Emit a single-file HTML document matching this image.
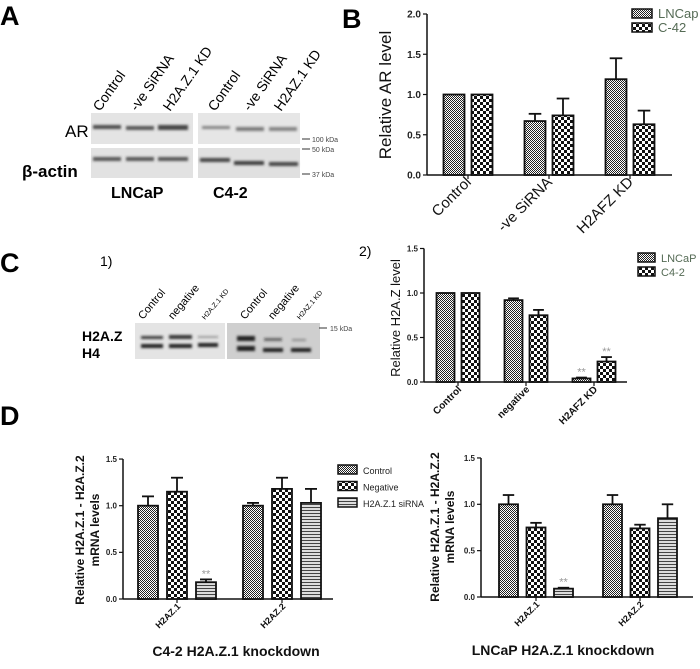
<!DOCTYPE html>
<html><head><meta charset="utf-8">
<style>
html,body{margin:0;padding:0;background:#fff;}
svg{display:block;font-family:"Liberation Sans",Arial,sans-serif;}
</style></head>
<body>
<svg id="fig" width="700" height="669" viewBox="0 0 700 669" xmlns="http://www.w3.org/2000/svg">
<defs>
  <pattern id="pFine" width="2" height="2" patternUnits="userSpaceOnUse"><rect width="2" height="2" fill="#fff"/><rect width="1" height="1" fill="#222"/><rect x="1" y="1" width="1" height="1" fill="#222"/></pattern>
  <pattern id="pCheck" width="6" height="6" patternUnits="userSpaceOnUse"><rect width="6" height="6" fill="#fff"/><rect width="3" height="3" fill="#111"/><rect x="3" y="3" width="3" height="3" fill="#111"/></pattern>
  <pattern id="pStripe" width="4" height="3" patternUnits="userSpaceOnUse"><rect width="4" height="3" fill="#ddd"/><rect y="0" width="4" height="1" fill="#444"/></pattern>
  <filter id="blur" x="-10%" y="-50%" width="120%" height="200%"><feGaussianBlur stdDeviation="1.2"/></filter>
</defs>

<!-- Panel A -->
<g>
  <text x="0" y="25" font-size="27" font-weight="bold">A</text>
  <g font-size="14">
    <text transform="translate(100,112) rotate(-55)">Control</text>
    <text transform="translate(137,112) rotate(-55)">-ve SiRNA</text>
    <text transform="translate(170,112) rotate(-55)">H2A.Z.1 KD</text>
    <text transform="translate(215,112) rotate(-55)">Control</text>
    <text transform="translate(250,112) rotate(-55)">-ve SiRNA</text>
    <text transform="translate(281,112) rotate(-55)">H2AZ.1 KD</text>
  </g>
  <rect x="91" y="113" width="102" height="31" fill="#e4e4e4"/>
  <rect x="91" y="148" width="102" height="30" fill="#e2e2e2"/>
  <rect x="198" y="113" width="102" height="31" fill="#e6e6e6"/>
  <rect x="198" y="148" width="102" height="30" fill="#e0e0e0"/>
  <g filter="url(#blur)" fill="#333">
    <rect x="93" y="125" width="28" height="4" opacity="0.85"/><rect x="126" y="126" width="28" height="4" opacity="0.8"/><rect x="158" y="125" width="30" height="5" opacity="0.9"/>
    <rect x="93" y="157" width="28" height="4" opacity="0.8"/><rect x="126" y="157" width="28" height="4" opacity="0.8"/><rect x="158" y="157" width="30" height="4" opacity="0.8"/>
    <rect x="202" y="126" width="28" height="3" opacity="0.55"/><rect x="236" y="127" width="28" height="4" opacity="0.6"/><rect x="269" y="127" width="28" height="4" opacity="0.55"/>
    <rect x="200" y="158" width="30" height="4" opacity="0.9"/><rect x="234" y="161" width="30" height="4" opacity="0.95"/><rect x="269" y="162" width="29" height="4" opacity="0.9"/>
  </g>
  <text x="65" y="137" font-size="17">AR</text>
  <text x="22" y="177" font-size="17" font-weight="bold">β-actin</text>
  <text x="111" y="198" font-size="16" font-weight="bold">LNCaP</text>
  <text x="213" y="198" font-size="16" font-weight="bold">C4-2</text>
  <g stroke="#333" stroke-width="1"><line x1="302" y1="139" x2="310" y2="139"/><line x1="302" y1="149" x2="310" y2="149"/><line x1="302" y1="174" x2="310" y2="174"/></g>
  <g font-size="7" fill="#444"><text x="312" y="142">100 kDa</text><text x="312" y="152">50 kDa</text><text x="312" y="177">37 kDa</text></g>
</g>

<text x="342" y="28" font-size="27" font-weight="bold">B</text>

<!-- Panel C -->
<g>
  <text x="0" y="272" font-size="27" font-weight="bold">C</text>
  <text x="100" y="266" font-size="14">1)</text>
  <text x="359" y="256" font-size="14">2)</text>
  <g font-size="11">
    <text transform="translate(143,320) rotate(-50)">Control</text>
    <text transform="translate(173,320) rotate(-50)">negative</text>
    <text transform="translate(205,320) rotate(-50)" font-size="7">H2A.Z.1 KD</text>
    <text transform="translate(245,320) rotate(-50)">Control</text>
    <text transform="translate(273,320) rotate(-50)">negative</text>
    <text transform="translate(300,320) rotate(-50)" font-size="7">H2AZ.1 KD</text>
  </g>
  <rect x="135" y="323" width="90" height="36" fill="#e4e4e4"/>
  <rect x="227" y="323" width="93" height="36" fill="#cfcfcf"/>
  <g filter="url(#blur)" fill="#222">
    <rect x="141" y="336" width="22" height="3" opacity="0.85"/><rect x="169" y="335" width="23" height="4" opacity="0.9"/><rect x="198" y="336" width="20" height="2" opacity="0.4"/>
    <rect x="141" y="344" width="22" height="4"/><rect x="169" y="344" width="23" height="4"/><rect x="198" y="343" width="20" height="4"/>
    <rect x="237" y="336" width="18" height="5"/><rect x="264" y="338" width="18" height="3" opacity="0.6"/><rect x="292" y="339" width="14" height="2" opacity="0.35"/>
    <rect x="237" y="346" width="18" height="5"/><rect x="263" y="348" width="20" height="4"/><rect x="291" y="348" width="20" height="4"/>
  </g>
  <text x="82" y="341" font-size="14" font-weight="bold">H2A.Z</text>
  <text x="82" y="358" font-size="14" font-weight="bold">H4</text>
  <line x1="319" y1="328" x2="327" y2="328" stroke="#333"/>
  <text x="330" y="331" font-size="7" fill="#444">15 kDa</text>
  <text x="0" y="425" font-size="27" font-weight="bold">D</text>
</g>

<g id="charts"></g>
</svg>

<script>
// ---- Chart B data ----
const bCategories = ["Control", "-ve SiRNA", "H2AFZ  KD"];
const bLncap = [1.0, 0.67, 1.19];
const bLncapErr = [0, 0.09, 0.26];
const bC42 = [1.0, 0.74, 0.63];
const bC42Err = [0, 0.21, 0.17];
const bTicks = [0, 0.5, 1.0, 1.5, 2.0];
const bTickLabels = ["0.0", "0.5", "1.0", "1.5", "2.0"];

// ---- Chart C2 data ----
const cCategories = ["Control", "negative", "H2AFZ KD"];
const cLncap = [1.0, 0.92, 0.04];
const cLncapErr = [0, 0.02, 0.01];
const cC42 = [1.0, 0.75, 0.23];
const cC42Err = [0, 0.06, 0.05];
const cStars = [["", "", "**"], ["", "", "**"]];
const cTicks = [0, 0.5, 1.0, 1.5];
const cTickLabels = ["0.0", "0.5", "1.0", "1.5"];

// ---- Chart D data ----
const dCategories = ["H2AZ.1", "H2AZ.2"];
const dTicks = [0, 0.5, 1.0, 1.5];
const dTickLabels = ["0.0", "0.5", "1.0", "1.5"];
const dLeftControl = [1.0, 1.0];
const dLeftControlErr = [0.1, 0.03];
const dLeftNegative = [1.15, 1.18];
const dLeftNegativeErr = [0.15, 0.12];
const dLeftSiRNA = [0.18, 1.03];
const dLeftSiRNAErr = [0.03, 0.15];
const dRightControl = [1.0, 1.0];
const dRightControlErr = [0.1, 0.1];
const dRightNegative = [0.75, 0.74];
const dRightNegativeErr = [0.05, 0.04];
const dRightSiRNA = [0.09, 0.85];
const dRightSiRNAErr = [0.01, 0.15];
const dStars = [["", ""], ["", ""], ["**", ""]];

const NS = "http://www.w3.org/2000/svg";
const root = document.getElementById("charts");
function mk(tag, attrs, parent) {
  const e = document.createElementNS(NS, tag);
  for (const k in attrs) e.setAttribute(k, attrs[k]);
  (parent || root).appendChild(e);
  return e;
}

function drawChart(c) {
  const g = mk("g", {});
  
  
  const yS = v => c.y0 - v * c.ppu;
  const nS = c.series.length;
  const xBar = (gi, si) => c.gStart + gi * c.gStep - (nS * c.bw + (nS - 1) * c.bgap) / 2 + si * (c.bw + c.bgap);
  // axes
  const ya = mk("line", {x1: c.x0, y1: yS(c.ticks[c.ticks.length - 1]), x2: c.x0, y2: c.y0, stroke: "#111", "stroke-width": 1.5}, g);
  
  
  const xa = mk("line", {x1: c.x0, y1: c.y0, x2: c.xEnd, y2: c.y0, stroke: "#111", "stroke-width": 1.5}, g);
  
  
  c.ticks.forEach((t, i) => {
    mk("line", {x1: c.x0 - 4, y1: yS(t), x2: c.x0, y2: yS(t), stroke: "#111", "stroke-width": 1.2}, g);
    const tl = mk("text", {x: c.x0 - 6, y: yS(t) + c.tfs * 0.35, "font-size": c.tfs, "font-weight": "bold", "text-anchor": "end", fill: "#222"}, g);
    tl.textContent = c.tickLabels[i];
    
    
  });
  // bars
  c.series.forEach((s, si) => {
    s.vals.forEach((v, gi) => {
      const x = xBar(gi, si);
      const top = yS(v);
      const cx = x + c.bw / 2;
      if (s.err[gi] > 0) {
        mk("line", {x1: cx, y1: top, x2: cx, y2: yS(v + s.err[gi]), stroke: "#111", "stroke-width": 1.8}, g);
        mk("line", {x1: cx - c.bw * 0.3, y1: yS(v + s.err[gi]), x2: cx + c.bw * 0.3, y2: yS(v + s.err[gi]), stroke: "#111", "stroke-width": 1.8}, g);
      }
      const r = mk("rect", {x: x, y: top, width: c.bw, height: Math.max(0, c.y0 - top), fill: "url(#" + s.pat + ")", stroke: "#111", "stroke-width": 1.8}, g);
      
      
      if (c.stars && c.stars[si] && c.stars[si][gi]) {
        const st = mk("text", {x: cx, y: yS(v + s.err[gi]) - 2, "font-size": 11, "text-anchor": "middle", fill: "#999"}, g);
        st.textContent = c.stars[si][gi];
        
        
      }
    });
  });
  // categories
  c.cats.forEach((cat, gi) => {
    const tx = c.gStart + gi * c.gStep;
    mk("line", {x1: tx, y1: c.y0, x2: tx, y2: c.y0 + 4, stroke: "#111", "stroke-width": 1.2}, g);
    const t = mk("text", {transform: "translate(" + (tx + 4) + "," + (c.y0 + 8) + ") rotate(-45)", "font-size": c.cfs, "font-weight": c.cbold ? "bold" : "normal", "text-anchor": "end", fill: "#111"}, g);
    t.textContent = cat;
    
    
  });
  // y label
  c.ylabel.forEach((line, li) => {
    const t = mk("text", {transform: "translate(" + (c.ylx + li * c.yld) + "," + c.yly + ") rotate(-90)", "font-size": c.ylfs, "font-weight": c.ylbold ? "bold" : "normal", "text-anchor": "middle", fill: "#111"}, g);
    t.textContent = line;
    
    
  });
  if (c.title) {
    const t = mk("text", {x: c.title.x, y: c.title.y, "font-size": 14, "font-weight": "bold", "text-anchor": "middle", fill: "#111"}, g);
    t.textContent = c.title.text;
    
    
  }
  if (c.legend) {
    c.series.forEach((s, si) => {
      const ly = c.legend.y + si * c.legend.dy;
      const sw = mk("rect", {x: c.legend.x, y: ly - 5, width: c.legend.w, height: 9, fill: "url(#" + s.pat + ")", stroke: "#111", "stroke-width": 1.5}, g);
      
      
      const t = mk("text", {x: c.legend.x + c.legend.w + 6, y: ly + 4, "font-size": c.legend.fs, fill: c.legend.color}, g);
      t.textContent = s.label;
      
      
    });
  }
}

drawChart({name: "chart-b-ar-level", x0: 427, xEnd: 672, y0: 175, ppu: 80.5, ticks: bTicks, tickLabels: bTickLabels, tfs: 10,
  gStart: 468, gStep: 81, bw: 21, bgap: 7, cats: bCategories, cfs: 15, cbold: false,
  series: [{key: "lncap", label: "LNCap", vals: bLncap, err: bLncapErr, pat: "pFine"}, {key: "c42", label: "C-42", vals: bC42, err: bC42Err, pat: "pCheck"}],
  ylabel: ["Relative AR level"], ylx: 391, yld: 0, yly: 95, ylfs: 17, ylbold: false,
  legend: {x: 632, y: 14, dy: 14, w: 20, fs: 13, color: "#556b55"}});

drawChart({name: "chart-c2-h2az-level", x0: 424, xEnd: 627, y0: 382, ppu: 89, ticks: cTicks, tickLabels: cTickLabels, tfs: 8,
  gStart: 458, gStep: 68, bw: 18, bgap: 7, cats: cCategories, cfs: 10, cbold: true, stars: cStars,
  series: [{key: "lncap", label: "LNCaP", vals: cLncap, err: cLncapErr, pat: "pFine"}, {key: "c42", label: "C4-2", vals: cC42, err: cC42Err, pat: "pCheck"}],
  ylabel: ["Relative H2A.Z level"], ylx: 400, yld: 0, yly: 318, ylfs: 13, ylbold: false,
  legend: {x: 638, y: 258, dy: 14, w: 17, fs: 11, color: "#556b55"}});

drawChart({name: "chart-d-c42-mrna", x0: 123, xEnd: 333, y0: 599, ppu: 93.3, ticks: dTicks, tickLabels: dTickLabels, tfs: 8,
  gStart: 177, gStep: 105, bw: 20, bgap: 9, cats: dCategories, cfs: 9, cbold: true,
  stars: [["", ""], ["", ""], ["**", ""]],
  series: [{key: "control", label: "Control", vals: dLeftControl, err: dLeftControlErr, pat: "pFine"},
           {key: "negative", label: "Negative", vals: dLeftNegative, err: dLeftNegativeErr, pat: "pCheck"},
           {key: "sirna", label: "H2A.Z.1 siRNA", vals: dLeftSiRNA, err: dLeftSiRNAErr, pat: "pStripe"}],
  ylabel: ["Relative H2A.Z.1 - H2A.Z.2", "mRNA levels"], ylx: 84, yld: 15, yly: 530, ylfs: 12, ylbold: true,
  title: {x: 236, y: 656, text: "C4-2 H2A.Z.1 knockdown"},
  legend: {x: 338, y: 470, dy: 16.5, w: 19, fs: 9, color: "#222"}});

drawChart({name: "chart-d-lncap-mrna", x0: 481, xEnd: 693, y0: 597, ppu: 92.7, ticks: dTicks, tickLabels: dTickLabels, tfs: 8,
  gStart: 536, gStep: 104, bw: 19, bgap: 8.5, cats: dCategories, cfs: 9, cbold: true,
  stars: dStars,
  series: [{key: "control", label: "Control", vals: dRightControl, err: dRightControlErr, pat: "pFine"},
           {key: "negative", label: "Negative", vals: dRightNegative, err: dRightNegativeErr, pat: "pCheck"},
           {key: "sirna", label: "H2A.Z.1 siRNA", vals: dRightSiRNA, err: dRightSiRNAErr, pat: "pStripe"}],
  ylabel: ["Relative H2A.Z.1 - H2A.Z.2", "mRNA levels"], ylx: 439, yld: 15, yly: 527, ylfs: 12, ylbold: true,
  title: {x: 563, y: 655, text: "LNCaP H2A.Z.1 knockdown"}});
</script>
</body></html>
